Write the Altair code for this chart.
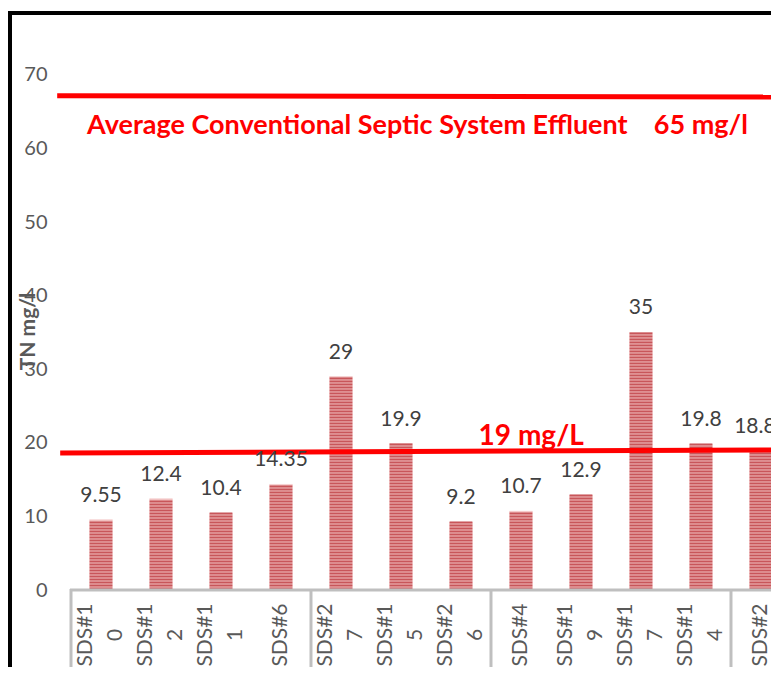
import altair as alt
import pandas as pd

# ---- data ----
sites = ["SDS#10", "SDS#12", "SDS#11", "SDS#6", "SDS#27", "SDS#15",
         "SDS#26", "SDS#4", "SDS#19", "SDS#17", "SDS#14", "SDS#2"]
tn_values = [9.55, 12.4, 10.4, 14.35, 29, 19.9, 9.2, 10.7, 12.9, 35, 19.8, 18.85]
value_labels = ["9.55", "12.4", "10.4", "14.35", "29", "19.9", "9.2", "10.7",
                "12.9", "35", "19.8", "18.85"]
group_edges = [-0.5, 3.5, 6.5, 10.5]          # category-axis group separators
y_ticks = [0, 10, 20, 30, 40, 50, 60, 70]

# reference lines (drawn slightly slanted as in the original)
conv_line = {"x": -0.73, "x2": 11.5, "y": 67.19, "y2": 67.0}
target_line = {"x": -0.68, "x2": 11.5, "y": 18.62, "y2": 19.05}
conv_text = "Average Conventional Septic System Effluent\u00a0\u00a0\u00a0\u00a065 mg/l"
target_text = "19 mg/L"

FONT = "Lato"
W, H = 703, 577
HALF = 0.19
STRIPE_STEP = 0.4078   # ~3px in data units
LINE_OFF = 0.258       # half the spacing of the two wrapped label lines

# category labels wrap like Excel: first 5 characters, then the rest
lab_rows = []
for i, s in enumerate(sites):
    first, rest = s[:5], s[5:]
    if rest:
        lab_rows.append({"lx": i - LINE_OFF, "t": first})
        lab_rows.append({"lx": i + LINE_OFF, "t": rest})
    else:
        lab_rows.append({"lx": i, "t": first})
lab_df = pd.DataFrame(lab_rows)

df = pd.DataFrame({
    "idx": list(range(len(sites))),
    "site": sites,
    "value": tn_values,
    "vlabel": value_labels,
})
df["xl"] = df["idx"] - HALF
df["xr"] = df["idx"] + HALF

xs = alt.Scale(domain=[-0.55, 11.167], nice=False, zero=False)
ys = alt.Scale(domain=[0, 78.42], nice=False, zero=False)

y_axis = alt.Axis(values=y_ticks, title="TN mg/l", grid=False, ticks=False,
                  domain=False, labelPadding=21, labelFont=FONT,
                  labelFontSize=20, labelColor="#595959",
                  titleFont=FONT, titleFontSize=21, titleFontWeight="bold",
                  titleColor="#595959", titleAngle=270, titleX=-40,
                  titleY=318, titleAlign="center", titleBaseline="middle")

def X(f):
    return alt.X(f, scale=xs, axis=None)

def Y(f):
    return alt.Y(f, scale=ys, axis=y_axis)

base = alt.Chart(df)

bars = base.mark_rect(fill="#F2C2C2", stroke="#F2C2C2", strokeWidth=0.5).encode(
    x=X("xl:Q"),
    x2="xr:Q",
    y=Y("value:Q"),
    y2=alt.datum(0),
)

stripes = base.transform_calculate(
    s=f"sequence(0, datum.value, {STRIPE_STEP})"
).transform_flatten(["s"]).transform_calculate(
    sy=f"datum.s + {STRIPE_STEP/2}"
).transform_filter(
    "datum.sy < datum.value"
).mark_rule(color="#C8565A", strokeWidth=2).encode(
    x=X("xl:Q"),
    x2="xr:Q",
    y=Y("sy:Q"),
)

vals = base.mark_text(font=FONT, fontSize=21, color="#404040", baseline="alphabetic",
                      dy=-18).encode(
    x=X("idx:Q"),
    y=Y("value:Q"),
    text="vlabel:N",
)

cats = alt.Chart(lab_df).mark_text(font=FONT, fontSize=21, color="#595959", angle=270,
                                   align="center", baseline="middle").encode(
    x=X("lx:Q"),
    y=alt.value(H + 45),
    text="t:N",
)

axis_line = alt.Chart(pd.DataFrame({"x": [-0.517], "x2": [11.5]})).mark_rule(
    color="#BFBFBF", strokeWidth=3).encode(
    x=X("x:Q"), x2="x2:Q", y=alt.value(H))

seps = alt.Chart(pd.DataFrame({"e": group_edges})).mark_rule(
    color="#BFBFBF", strokeWidth=3).encode(
    x=X("e:Q"), y=alt.value(H - 1), y2=alt.value(H + 120))

lines_df = pd.DataFrame([conv_line, target_line])
ref_lines = alt.Chart(lines_df).mark_rule(color="#FF0000", strokeWidth=5).encode(
    x=X("x:Q"), x2="x2:Q",
    y=Y("y:Q"), y2="y2:Q")

ann_df = pd.DataFrame({
    "x": [-0.233, 7.17],
    "y": [62.0, 19.71],
    "t": [conv_text, target_text],
})
ann1 = alt.Chart(ann_df.iloc[[0]]).mark_text(
    font=FONT, fontSize=27, fontWeight="bold", color="#FF0000",
    align="left", baseline="alphabetic").encode(
    x=X("x:Q"), y=Y("y:Q"), text="t:N")
ann2 = alt.Chart(ann_df.iloc[[1]]).mark_text(
    font=FONT, fontSize=28, fontWeight="bold", color="#FF0000",
    align="center", baseline="alphabetic").encode(
    x=X("x:Q"), y=Y("y:Q"), text="t:N")

one = pd.DataFrame({"k": [0]})
border_left = alt.Chart(one).mark_rule(color="#000000", strokeWidth=4).encode(
    x=alt.value(-58), y=alt.value(-2), y2=alt.value(H + 120))
border_top = alt.Chart(one).mark_rule(color="#000000", strokeWidth=4).encode(
    y=alt.value(0), x=alt.value(-60), x2=alt.value(W + 20))

chart = alt.layer(
    bars, stripes, axis_line, seps, ref_lines, vals, cats, ann1, ann2,
    border_left, border_top
).properties(
    width=W, height=H,
    padding={"left": 60, "top": 5, "right": 0, "bottom": 77},
    autosize=alt.AutoSizeParams(type="none"),
    background="#FFFFFF",
).configure_view(stroke="transparent", strokeWidth=0)

chart.save("out.html", embed_options={"renderer": "svg", "actions": False})
